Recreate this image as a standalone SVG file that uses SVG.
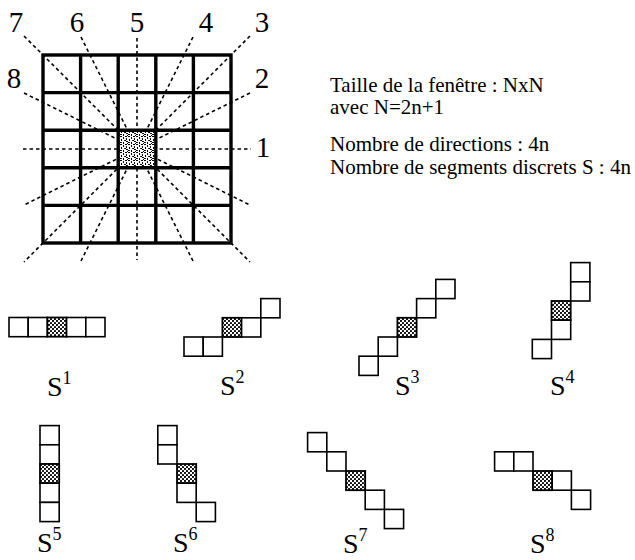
<svg xmlns="http://www.w3.org/2000/svg" width="635" height="560" viewBox="0 0 635 560">
<defs>
<pattern id="dots" width="4" height="4" patternUnits="userSpaceOnUse">
<rect width="4" height="4" fill="#fff"/>
<circle cx="1" cy="1" r="1.1" fill="#000"/>
<circle cx="3" cy="3" r="1.1" fill="#000"/>
</pattern>
<pattern id="noise" width="8" height="8" patternUnits="userSpaceOnUse">
<rect width="8" height="8" fill="#fff"/>
<rect x="0" y="0" width="2" height="1" fill="#000"/>
<rect x="3" y="1" width="1" height="2" fill="#000"/>
<rect x="5" y="0" width="2" height="1" fill="#000"/>
<rect x="1" y="3" width="1" height="2" fill="#000"/>
<rect x="6" y="2" width="1" height="2" fill="#000"/>
<rect x="4" y="4" width="2" height="1" fill="#000"/>
<rect x="0" y="6" width="2" height="1" fill="#000"/>
<rect x="3" y="6" width="1" height="2" fill="#000"/>
<rect x="6" y="5" width="2" height="1" fill="#000"/>
<rect x="7" y="7" width="1" height="1" fill="#000"/>
</pattern>
</defs>
<style>
.dash{stroke:#000;stroke-width:1.6;stroke-dasharray:3.5 3;fill:none}
.grid{stroke:#000;stroke-width:3.4;fill:none}
.cell{fill:#fff;stroke:#000;stroke-width:1.6}
.shade{fill:url(#dots);stroke:#000;stroke-width:1.8}
.num{font-family:"Liberation Serif","Times New Roman",serif;font-size:29px;fill:#000;text-anchor:middle}
.txt{font-family:"Liberation Serif","Times New Roman",serif;font-size:21px;fill:#000}
.lab{font-family:"Liberation Serif","Times New Roman",serif;font-size:28px;fill:#000}
.sup{font-size:18px}
</style>
<rect width="635" height="560" fill="#fff"/>

<g id="connectors">
<line class="dash" x1="23" y1="149" x2="251" y2="149"/>
<line class="dash" x1="137" y1="38" x2="137" y2="260"/>
<line class="dash" x1="250" y1="36" x2="24" y2="262"/>
<line class="dash" x1="24" y1="36" x2="250" y2="262"/>
<line class="dash" x1="193" y1="37" x2="81" y2="261"/>
<line class="dash" x1="81" y1="37" x2="193" y2="261"/>
<line class="dash" x1="250" y1="93" x2="24" y2="205"/>
<line class="dash" x1="24" y1="93" x2="250" y2="205"/>
</g>

<g id="window">
<rect x="118.2" y="130.2" width="37.6" height="37.6" fill="url(#noise)"/>
<rect class="grid" x="43" y="55" width="188" height="188"/>
<line class="grid" x1="80.6" y1="55" x2="80.6" y2="243"/>
<line class="grid" x1="118.2" y1="55" x2="118.2" y2="243"/>
<line class="grid" x1="155.8" y1="55" x2="155.8" y2="243"/>
<line class="grid" x1="193.4" y1="55" x2="193.4" y2="243"/>
<line class="grid" x1="43" y1="92.6" x2="231" y2="92.6"/>
<line class="grid" x1="43" y1="130.2" x2="231" y2="130.2"/>
<line class="grid" x1="43" y1="167.8" x2="231" y2="167.8"/>
<line class="grid" x1="43" y1="205.4" x2="231" y2="205.4"/>
</g>

<g id="direction-labels">
<text class="num" x="16" y="32">7</text>
<text class="num" x="77" y="32">6</text>
<text class="num" x="137" y="32">5</text>
<text class="num" x="206" y="32">4</text>
<text class="num" x="262" y="32">3</text>
<text class="num" x="14" y="88">8</text>
<text class="num" x="262" y="88">2</text>
<text class="num" x="263" y="157">1</text>
</g>

<g id="caption">
<text class="txt" x="330" y="92">Taille de la fenêtre : NxN</text>
<text class="txt" x="330" y="114">avec N=2n+1</text>
<text class="txt" x="330" y="151">Nombre de directions : 4n</text>
<text class="txt" x="330" y="174">Nombre de segments discrets S : 4n</text>
</g>

<g id="S1">
<rect class="cell" x="9" y="317.5" width="19.2" height="19.2"/>
<rect class="cell" x="28.2" y="317.5" width="19.2" height="19.2"/>
<rect class="shade" x="47.4" y="317.5" width="19.2" height="19.2"/>
<rect class="cell" x="66.6" y="317.5" width="19.2" height="19.2"/>
<rect class="cell" x="85.8" y="317.5" width="19.2" height="19.2"/>
<text class="lab" x="47" y="396">S<tspan class="sup" dy="-12">1</tspan></text>
</g>

<g id="S2">
<rect class="cell" x="184" y="337" width="19.2" height="19.2"/>
<rect class="cell" x="203.2" y="337" width="19.2" height="19.2"/>
<rect class="shade" x="222.4" y="317.8" width="19.2" height="19.2"/>
<rect class="cell" x="241.6" y="317.8" width="19.2" height="19.2"/>
<rect class="cell" x="260.8" y="298.6" width="19.2" height="19.2"/>
<text class="lab" x="220" y="395">S<tspan class="sup" dy="-12">2</tspan></text>
</g>

<g id="S3">
<rect class="cell" x="359" y="356.2" width="19.2" height="19.2"/>
<rect class="cell" x="378.2" y="337" width="19.2" height="19.2"/>
<rect class="shade" x="397.4" y="317.8" width="19.2" height="19.2"/>
<rect class="cell" x="416.6" y="298.6" width="19.2" height="19.2"/>
<rect class="cell" x="435.8" y="279.4" width="19.2" height="19.2"/>
<text class="lab" x="395" y="395">S<tspan class="sup" dy="-12">3</tspan></text>
</g>

<g id="S4">
<rect class="cell" x="570.7" y="262.6" width="19.2" height="19.2"/>
<rect class="cell" x="570.7" y="281.8" width="19.2" height="19.2"/>
<rect class="shade" x="551.5" y="301" width="19.2" height="19.2"/>
<rect class="cell" x="551.5" y="320.2" width="19.2" height="19.2"/>
<rect class="cell" x="532.3" y="339.4" width="19.2" height="19.2"/>
<text class="lab" x="550" y="395">S<tspan class="sup" dy="-12">4</tspan></text>
</g>

<g id="S5">
<rect class="cell" x="40" y="425.6" width="19.2" height="19.2"/>
<rect class="cell" x="40" y="444.8" width="19.2" height="19.2"/>
<rect class="shade" x="40" y="464" width="19.2" height="19.2"/>
<rect class="cell" x="40" y="483.2" width="19.2" height="19.2"/>
<rect class="cell" x="40" y="502.4" width="19.2" height="19.2"/>
<text class="lab" x="37" y="552">S<tspan class="sup" dy="-12">5</tspan></text>
</g>

<g id="S6">
<rect class="cell" x="157.8" y="425.6" width="19.2" height="19.2"/>
<rect class="cell" x="157.8" y="444.8" width="19.2" height="19.2"/>
<rect class="shade" x="177" y="464" width="19.2" height="19.2"/>
<rect class="cell" x="177" y="483.2" width="19.2" height="19.2"/>
<rect class="cell" x="196.2" y="502.4" width="19.2" height="19.2"/>
<text class="lab" x="173" y="552">S<tspan class="sup" dy="-12">6</tspan></text>
</g>

<g id="S7">
<rect class="cell" x="307.6" y="432.6" width="19.2" height="19.2"/>
<rect class="cell" x="326.8" y="451.8" width="19.2" height="19.2"/>
<rect class="shade" x="346" y="471" width="19.2" height="19.2"/>
<rect class="cell" x="365.2" y="490.2" width="19.2" height="19.2"/>
<rect class="cell" x="384.4" y="509.4" width="19.2" height="19.2"/>
<text class="lab" x="343" y="553">S<tspan class="sup" dy="-12">7</tspan></text>
</g>

<g id="S8">
<rect class="cell" x="494.6" y="451.8" width="19.2" height="19.2"/>
<rect class="cell" x="513.8" y="451.8" width="19.2" height="19.2"/>
<rect class="shade" x="533" y="471" width="19.2" height="19.2"/>
<rect class="cell" x="552.2" y="471" width="19.2" height="19.2"/>
<rect class="cell" x="571.4" y="490.2" width="19.2" height="19.2"/>
<text class="lab" x="530" y="553">S<tspan class="sup" dy="-12">8</tspan></text>
</g>
</svg>
